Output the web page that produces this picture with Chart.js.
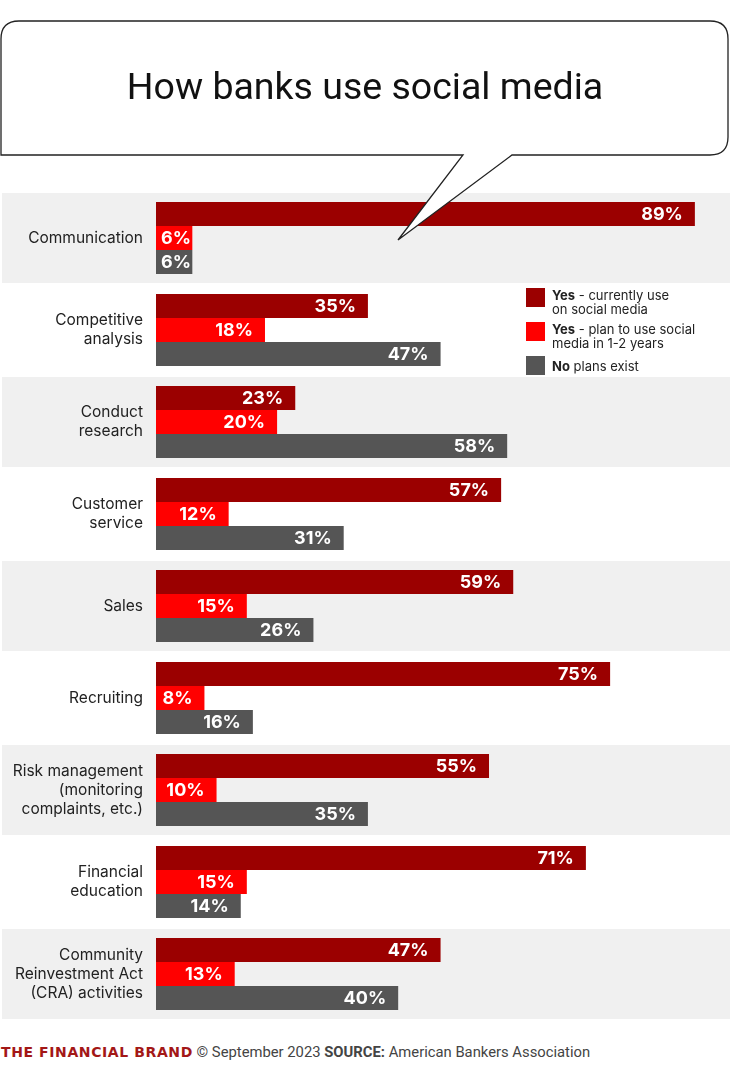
<!DOCTYPE html>
<html>
<head>
<meta charset="utf-8">
<script src="https://cdn.jsdelivr.net/npm/chart.js@4/dist/chart.umd.min.js"></script>
<style>
  html, body { margin: 0; padding: 0; background: #fff; }
  body { width: 730px; height: 1080px; position: relative; overflow: hidden; font-family: Inter, sans-serif; }
  #chartBox { position: absolute; left: 0; top: 192px; width: 730px; height: 828px; }
  #bubble { position: absolute; left: 0; top: 0; width: 730px; height: 260px; pointer-events: none; z-index: 2; }
  #title { position: absolute; left: 0; top: 64px; width: 730px; text-align: center; font-family: Roboto, sans-serif; font-size: 37.5px; color: #111; z-index: 3; }
  #legend { position: absolute; left: 526px; top: 288px; z-index: 3; font-size: 13px; color: #222; line-height: 14px; }
  .li { display: flex; align-items: flex-start; margin-bottom: 6px; }
  .sw { width: 19px; height: 19px; margin-right: 7px; flex: none; }
  #footer { position: absolute; left: 1px; top: 1043px; font-family: Roboto, sans-serif; font-size: 14.8px; color: #444; white-space: nowrap; z-index: 3; }
  #footer .brand { font-family: "DejaVu Sans", sans-serif; font-weight: bold; font-size: 14px; letter-spacing: 0.6px; color: #a31717; }
</style>
</head>
<body>
<div id="chartBox"><canvas id="bank-chart"></canvas></div>
<svg id="bubble" width="730" height="260">
  <path d="M19,21 H710 Q728,21 728,39 V137 Q728,155 710,155 H512 L398,240 L463,155 H1 V39 Q1,21 19,21 Z"
        fill="#fff" stroke="#222" stroke-width="1.3"/>
</svg>
<div id="title">How banks use social media</div>
<div id="legend">
  <div class="li"><div class="sw" style="background:#9b0000"></div><div><b>Yes</b> - currently use<br>on social media</div></div>
  <div class="li" style="margin-top:3px"><div class="sw" style="background:#ff0000"></div><div><b>Yes</b> - plan to use social<br>media in 1-2 years</div></div>
  <div class="li" style="margin-top:2px"><div class="sw" style="background:#555555"></div><div style="padding-top:3px"><b>No</b> plans exist</div></div>
</div>
<div id="footer"><span class="brand">THE FINANCIAL BRAND</span> © September 2023 <b>SOURCE:</b> American Bankers Association</div>

<script>
let categories = [
  'Communication',
  ['Competitive', 'analysis'],
  ['Conduct', 'research'],
  ['Customer', 'service'],
  'Sales',
  'Recruiting',
  ['Risk management', '(monitoring', 'complaints, etc.)'],
  ['Financial', 'education'],
  ['Community', 'Reinvestment Act', '(CRA) activities']
];
let currentUse = [89, 35, 23, 57, 59, 75, 55, 71, 47];
let planToUse = [6, 18, 20, 12, 15, 8, 10, 15, 13];
let noPlans = [6, 47, 58, 31, 26, 16, 35, 14, 40];
let seriesNames = ['Yes - currently use on social media', 'Yes - plan to use social media in 1-2 years', 'No plans exist'];

// gray bands behind every other row, drawn before the axis labels
let rowBands = {
  id: 'rowBands',
  beforeDraw(chart) {
    let ctx = chart.ctx;
    let y = chart.scales.y;
    let half = chart.chartArea.height / categories.length / 2;
    ctx.save();
    ctx.fillStyle = '#f0f0f0';
    categories.forEach((c, i) => {
      if (i % 2) return;
      let cy = y.getPixelForValue(i);
      ctx.fillRect(2, cy - half + 1, chart.width - 2, half * 2 - 2);
    });
    ctx.restore();
  }
};

// white percent labels at the end of each bar
let barLabels = {
  id: 'barLabels',
  afterDatasetsDraw(chart) {
    let ctx = chart.ctx;
    ctx.save();
    ctx.font = 'bold 18px Inter, sans-serif';
    ctx.fillStyle = '#fff';
    ctx.textAlign = 'right';
    ctx.textBaseline = 'middle';
    chart.data.datasets.forEach((ds, di) => {
      chart.getDatasetMeta(di).data.forEach((bar, i) => {
        let txt = ds.data[i] + '%';
        let w = ctx.measureText(txt).width;
        let x = Math.max(bar.x - 12, bar.base + 5 + w);
        ctx.fillText(txt, x, bar.y + 1);
      });
    });
    ctx.restore();
  }
};

new Chart(document.getElementById('bank-chart'), {
  type: 'bar',
  data: {
    labels: categories,
    datasets: [
      { label: seriesNames[0], data: currentUse, backgroundColor: '#9b0000' },
      { label: seriesNames[1], data: planToUse, backgroundColor: '#ff0000' },
      { label: seriesNames[2], data: noPlans, backgroundColor: '#555555' }
    ]
  },
  options: {
    indexAxis: 'y',
    responsive: true,
    maintainAspectRatio: false,
    animation: false,
    layout: { padding: 0 },
    datasets: { bar: { categoryPercentage: 0.78, barPercentage: 1.0 } },
    scales: {
      x: { display: false, min: 0, max: 94.8 },
      y: {
        afterFit: (scale) => {
          scale.width = 156;
          scale.paddingTop = 0;
          scale.paddingBottom = 0;
        },
        grid: { display: false, drawTicks: false },
        border: { display: false },
        ticks: { autoSkip: false, padding: 13, color: '#222', font: { family: 'Inter', size: 15.5, lineHeight: 1.22 } }
      }
    },
    plugins: {
      legend: { display: false },
      tooltip: { enabled: false }
    }
  },
  plugins: [rowBands, barLabels]
});
</script>
</body>
</html>
